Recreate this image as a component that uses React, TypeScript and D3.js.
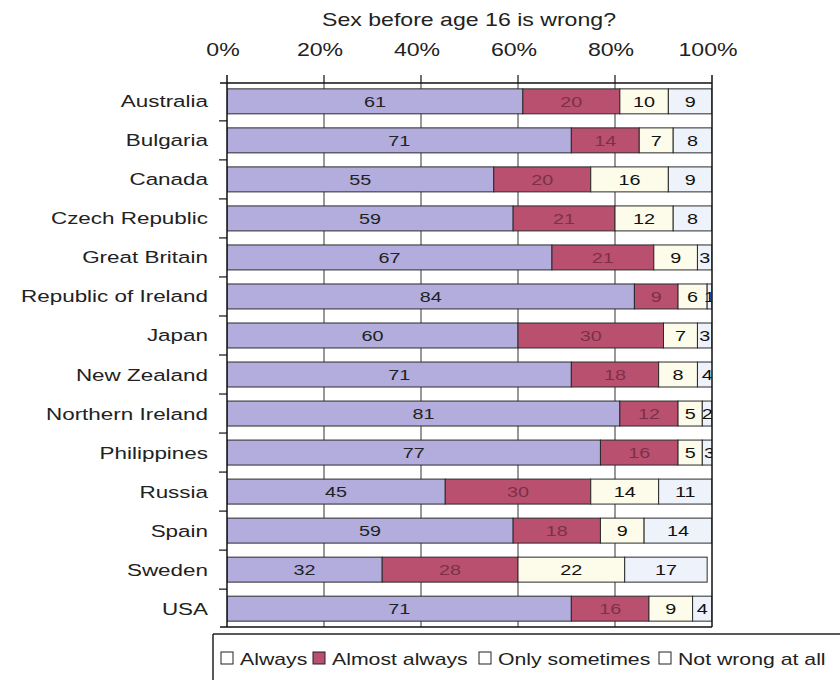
import React from "react";
import * as d3 from "d3";

const countries = [
  "Australia", "Bulgaria", "Canada", "Czech Republic", "Great Britain",
  "Republic of Ireland", "Japan", "New Zealand", "Northern Ireland",
  "Philippines", "Russia", "Spain", "Sweden", "USA",
];
const seriesNames = ["Always", "Almost always", "Only sometimes", "Not wrong at all"];
const always = [61, 71, 55, 59, 67, 84, 60, 71, 81, 77, 45, 59, 32, 71];
const almostAlways = [20, 14, 20, 21, 21, 9, 30, 18, 12, 16, 30, 18, 28, 16];
const onlySometimes = [10, 7, 16, 12, 9, 6, 7, 8, 5, 5, 14, 9, 22, 9];
const notWrong = [9, 8, 9, 8, 3, 1, 3, 4, 2, 3, 11, 14, 17, 4];
const xTicks = [0, 20, 40, 60, 80, 100];
const title = "Sex before age 16 is wrong?";

const fills = ["#b3addd", "#b9506f", "#fdfbe9", "#eef3fb"];
const textColors = ["#222", "#7d3049", "#111", "#111"];
const font = "'Liberation Sans', Arial, Helvetica, sans-serif";
const SX = 1.32;

function T(props: { x: number; y: number; size: number; anchor?: string; fill?: string; sx?: number; children: any }) {
  const s = props.sx ?? SX;
  return (
    <g transform={`translate(${props.x},${props.y}) scale(${s},1)`}>
      <text x={0} y={0} textAnchor={props.anchor ?? "start"} fontSize={props.size} fill={props.fill ?? "#222"}>
        {props.children}
      </text>
    </g>
  );
}

export default function App() {
  const W = 840, H = 680;
  const left = 227, right = 712, top = 83, bottom = 627;
  const x = d3.scaleLinear().domain([0, 100]).range([left, right]);
  const y = d3.scaleBand<string>().domain(countries).range([top, bottom]).paddingInner(0.36).paddingOuter(0.15);
  const seriesVals = [always, almostAlways, onlySometimes, notWrong];
  const rows = countries.map((c, i) => ({ c, vals: seriesVals.map((s) => s[i]) }));
  const stack = d3.stack<any>().keys(["0", "1", "2", "3"]).value((d: any, k: string) => d.vals[+k]);
  const stacked = stack(rows as any);
  const step = y.step();
  const bw = y.bandwidth();
  const legendSq = [221, 313, 479, 659];

  return (
    <svg width={W} height={H} style={{ position: "absolute", left: 0, top: 0, background: "#fff" }} fontFamily={font}>
      <defs>
        <clipPath id="plotclip">
          <rect x={left} y={top} width={right - left} height={bottom - top} />
        </clipPath>
      </defs>
      <T x={469} y={26} size={17.5} anchor="middle">{title}</T>
      {xTicks.map((t) => (
        <T key={t} x={x(t) - 4} y={56} size={17.5} anchor="middle">{t}%</T>
      ))}
      {/* gridlines */}
      {xTicks.slice(1, -1).map((t) => (
        <line key={t} x1={x(t)} x2={x(t)} y1={top} y2={bottom} stroke="#333" strokeWidth={1} />
      ))}
      {/* bars */}
      <g clipPath="url(#plotclip)">
        {stacked.map((layer, si) =>
          layer.map((d, i) => (
            <rect key={si + "-" + i} x={x(d[0])} y={y(countries[i])!} width={x(d[1]) - x(d[0])} height={bw}
              fill={fills[si]} stroke="#2a2a2a" strokeWidth={1} />
          ))
        )}
        {stacked.map((layer, si) =>
          layer.map((d, i) => (
            <T key={"t" + si + "-" + i} x={(x(d[0]) + x(d[1])) / 2} y={y(countries[i])! + bw / 2 + 5.5}
              size={15} anchor="middle" fill={textColors[si]}>{seriesVals[si][i]}</T>
          ))
        )}
      </g>
      {/* frame */}
      <line x1={left - 7} x2={right} y1={top} y2={top} stroke="#111" strokeWidth={1.5} />
      <line x1={left - 7} x2={right} y1={bottom} y2={bottom} stroke="#111" strokeWidth={1.5} />
      <line x1={left} x2={left} y1={top - 8} y2={bottom} stroke="#111" strokeWidth={1.5} />
      <line x1={right} x2={right} y1={top - 8} y2={bottom} stroke="#111" strokeWidth={1.5} />
      {xTicks.slice(1, -1).map((t) => (
        <line key={"tk" + t} x1={x(t)} x2={x(t)} y1={top - 8} y2={top} stroke="#111" strokeWidth={1.2} />
      ))}
      {countries.slice(1).map((c) => (
        <line key={"yt" + c} x1={left - 8} x2={left} y1={y(c)! - (step - bw) / 2} y2={y(c)! - (step - bw) / 2} stroke="#111" strokeWidth={1.2} />
      ))}
      {countries.map((c) => (
        <T key={"l" + c} x={208} y={y(c)! + bw / 2 + 6} size={17} anchor="end">{c}</T>
      ))}
      {/* legend */}
      <line x1={213} x2={840} y1={634} y2={634} stroke="#222" strokeWidth={1.5} />
      <line x1={213} x2={213} y1={634} y2={680} stroke="#222" strokeWidth={1.5} />
      {legendSq.map((sx, i) => (
        <g key={"lg" + i}>
          <rect x={sx} y={652} width={12} height={12} fill={i === 1 ? fills[1] : "#fff"} stroke="#222" strokeWidth={1} />
          <T x={sx + 19} y={665} size={17} sx={1.25}>{seriesNames[i]}</T>
        </g>
      ))}
    </svg>
  );
}
